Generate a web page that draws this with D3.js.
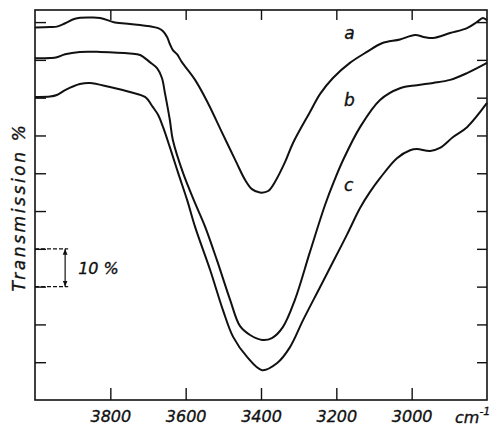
<!DOCTYPE html>
<html>
<head>
<meta charset="utf-8">
<script src="https://cdn.jsdelivr.net/npm/d3@7"></script>
<style>
    body { margin: 0; background: #fff; }
    #chart { width: 501px; height: 426px; }
    text { font-family: "DejaVu Sans", sans-serif; font-style: italic; fill: #111; stroke: #111; stroke-width: 0.35px; }
</style>
</head>
<body>
<div id="chart"></div>
<script>
// IR spectra, wavenumber (cm-1) vs transmission (%)
const curveA = [[4000, 98.6], [3960, 98.7], [3942, 98.8], [3920, 99.7], [3894, 100.9], [3854, 101.2],
    [3827, 101.1], [3788, 99.9], [3748, 99.5], [3721, 99.2], [3695, 98.9], [3673, 98.4], [3660, 97.6],
    [3649, 96.0], [3642, 94.2], [3634, 92.6], [3623, 91.5], [3610, 89.4], [3575, 84.7], [3541, 78.6],
    [3504, 70.9], [3466, 63.0], [3442, 58.2], [3424, 55.8], [3403, 54.9], [3381, 55.3], [3363, 57.7],
    [3336, 63.0], [3315, 68.0], [3270, 76.2], [3243, 81.0], [3209, 85.2], [3164, 89.2], [3119, 92.1],
    [3079, 94.4], [3031, 95.4], [2991, 96.6], [2965, 96.0], [2943, 95.8], [2898, 97.1], [2853, 98.4],
    [2827, 100.0], [2811, 101.1], [2800, 100.5]];

const curveB = [[4000, 90.4], [3960, 90.5], [3942, 90.7], [3920, 91.5], [3881, 92.1], [3827, 92.1],
    [3748, 91.7], [3721, 91.3], [3695, 89.4], [3676, 87.8], [3663, 85.2], [3655, 81.2], [3642, 74.1],
    [3634, 68.8], [3607, 60.1], [3575, 52.1], [3549, 46.0], [3517, 37.0], [3482, 26.5], [3456, 19.6],
    [3429, 17.2], [3397, 15.9], [3371, 16.4], [3342, 19.3], [3310, 26.5], [3270, 39.2], [3230, 51.6],
    [3206, 57.9], [3182, 63.5], [3137, 72.2], [3084, 79.4], [3031, 82.5], [2986, 83.3],
    [2943, 83.9], [2898, 84.7], [2853, 86.5], [2800, 89.2]];

const curveC = [[4000, 80.2], [3960, 80.3], [3942, 80.7], [3920, 82.0], [3881, 83.6], [3854, 83.9],
    [3801, 82.8], [3748, 81.5], [3708, 80.2], [3687, 77.5], [3673, 75.4], [3660, 72.2], [3642, 66.9],
    [3620, 60.1], [3596, 52.9], [3575, 45.8], [3535, 34.4], [3501, 23.8], [3474, 16.7], [3437, 11.4],
    [3397, 7.9], [3357, 9.8], [3323, 14.0], [3288, 21.2], [3243, 29.9], [3209, 36.5], [3172, 43.7],
    [3137, 50.8], [3111, 55.0], [3084, 58.7], [3039, 64.0], [3004, 66.1], [2986, 66.4], [2951, 65.9],
    [2925, 66.7], [2890, 69.6], [2853, 72.2], [2800, 78.6]];

const curveNames = ["a", "b", "c"];
// where each curve letter sits (wavenumber, transmission)
const labelPos = [[3165, 95.6], [3165, 77.8], [3167, 55.3]];

const xTicks = [3800, 3600, 3400, 3200, 3000];
const yTicks = [10, 20, 30, 40, 50, 60, 70, 80, 90, 100];
const xDomain = [4000, 2800];
const yDomain = [0, 103.2];
const scaleBar = [30, 40];   // the "10 %" bracket
const scaleBarWn = [4000, 3912, 3920];

class SpectrumChart {
    constructor(parentElement, series) {
        this.parentElement = parentElement;
        this.series = series;

        this.initVis()
    }

    initVis() {
        let vis = this;

        vis.margin = {top: 10, right: 14, bottom: 26, left: 35};
        vis.width = 501 - vis.margin.left - vis.margin.right;
        vis.height = 426 - vis.margin.top - vis.margin.bottom;

        vis.svg = d3.select("#" + vis.parentElement).append("svg")
            .attr("width", vis.width + vis.margin.left + vis.margin.right)
            .attr("height", vis.height + vis.margin.top + vis.margin.bottom)
            .append("g")
            .attr("transform", "translate(" + vis.margin.left + "," + vis.margin.top + ")");

        vis.xScale = d3.scaleLinear().domain(xDomain).range([0, vis.width]);
        vis.yScale = d3.scaleLinear().domain(yDomain).range([vis.height, 0]);

        vis.line = d3.line()
            .x(d => vis.xScale(d[0]))
            .y(d => vis.yScale(d[1]))
            .curve(d3.curveCatmullRom.alpha(0.5));

        vis.wrangleData()
    }

    wrangleData() {
        let vis = this;
        vis.displayData = vis.series.map((pts, i) => ({name: curveNames[i], values: pts, pos: labelPos[i]}));
        vis.updateVis()
    }

    updateVis() {
        let vis = this;
        const x = vis.xScale, y = vis.yScale;

        // axes, ticks pointing into the plot
        const styleAxis = g => {
            g.select(".domain").remove();
            g.selectAll(".tick line").attr("stroke", "#111").attr("stroke-width", 1.4);
        };

        vis.svg.append("g")
            .attr("transform", `translate(0,${vis.height})`)
            .call(d3.axisBottom(x).tickValues(xTicks).tickSize(-12).tickPadding(11).tickFormat(d3.format("d")))
            .call(styleAxis)
            .selectAll("text")
            .attr("font-size", 16)
            .attr("font-family", "DejaVu Sans")
            .attr("fill", "#111");

        vis.svg.append("g")
            .call(d3.axisTop(x).tickValues(xTicks).tickSize(-10).tickFormat(""))
            .call(styleAxis);

        vis.svg.append("g")
            .call(d3.axisLeft(y).tickValues(yTicks).tickSize(-11).tickFormat(""))
            .call(styleAxis);

        vis.svg.append("g")
            .attr("transform", `translate(${vis.width},0)`)
            .call(d3.axisRight(y).tickValues(yTicks).tickSize(-10).tickFormat(""))
            .call(styleAxis);

        // frame
        vis.svg.append("rect")
            .attr("x", 0).attr("y", 0)
            .attr("width", vis.width).attr("height", vis.height)
            .attr("fill", "none")
            .attr("stroke", "#111")
            .attr("stroke-width", 1.6);

        // spectra
        vis.svg.selectAll(".spectrum")
            .data(vis.displayData)
            .join("path")
            .attr("class", "spectrum")
            .attr("fill", "none")
            .attr("stroke", "#111")
            .attr("stroke-width", 2)
            .attr("stroke-linejoin", "round")
            .attr("d", d => vis.line(d.values));

        vis.svg.selectAll(".curve-label")
            .data(vis.displayData)
            .join("text")
            .attr("class", "curve-label")
            .attr("x", d => x(d.pos[0]))
            .attr("y", d => y(d.pos[1]))
            .attr("text-anchor", "middle")
            .attr("font-size", 17)
            .text(d => d.name);

        // 10 % scale bracket
        vis.svg.selectAll(".bar-dash")
            .data(scaleBar)
            .join("line")
            .attr("class", "bar-dash")
            .attr("x1", x(scaleBarWn[0])).attr("x2", x(scaleBarWn[1]))
            .attr("y1", d => y(d)).attr("y2", d => y(d))
            .attr("stroke", "#111")
            .attr("stroke-width", 1.2)
            .attr("stroke-dasharray", "4,2");

        vis.svg.append("defs").append("marker")
            .attr("id", "arrow")
            .attr("viewBox", "0 0 10 10")
            .attr("refX", 10).attr("refY", 5)
            .attr("markerWidth", 5).attr("markerHeight", 5)
            .attr("orient", "auto-start-reverse")
            .append("path")
            .attr("d", "M0,1 L10,5 L0,9 Z")
            .attr("fill", "#111");

        vis.svg.append("line")
            .attr("x1", x(scaleBarWn[2])).attr("x2", x(scaleBarWn[2]))
            .attr("y1", y(scaleBar[1])).attr("y2", y(scaleBar[0]))
            .attr("stroke", "#111")
            .attr("stroke-width", 1.2)
            .attr("marker-start", "url(#arrow)")
            .attr("marker-end", "url(#arrow)");

        vis.svg.append("text")
            .attr("x", x(scaleBarWn[2]) + 13)
            .attr("y", y(d3.mean(scaleBar)) + 6)
            .attr("font-size", 16)
            .text("10 %");

        // axis titles
        vis.svg.append("text")
            .attr("transform", `translate(${-10},${vis.height / 2 + 2}) rotate(-90)`)
            .attr("text-anchor", "middle")
            .attr("font-size", 17)
            .attr("letter-spacing", 2.6)
            .text("Transmission %");

        const unit = vis.svg.append("text")
            .attr("x", vis.width - 32)
            .attr("y", vis.height + 23)
            .attr("font-size", 16);
        unit.append("tspan").text("cm");
        unit.append("tspan").attr("dy", -8).attr("font-size", 11).text("-1");
    }
}

new SpectrumChart("chart", [curveA, curveB, curveC]);
</script>
</body>
</html>
